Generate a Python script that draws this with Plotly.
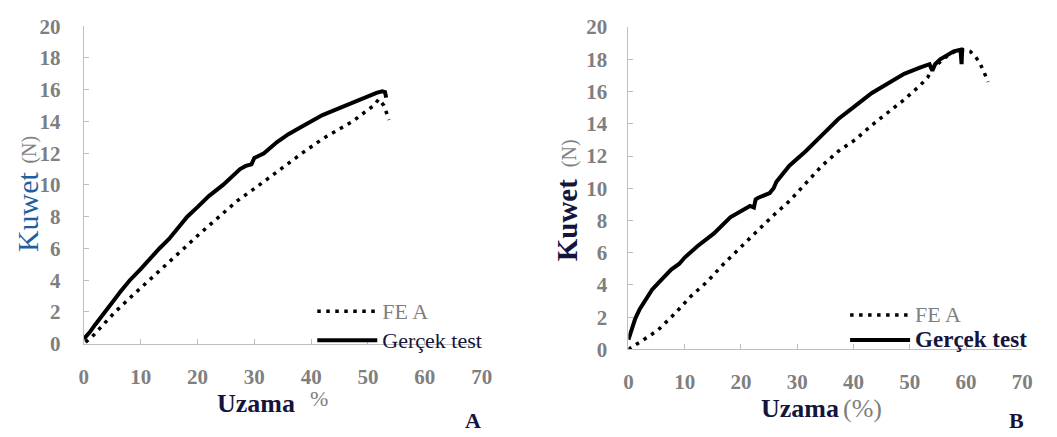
import plotly.graph_objects as go

# ---- Data ----
# Panel A
a_fea_x = [0.3, 1.5, 2.9, 4.2, 5.5, 8, 10, 12.4, 15, 17.6, 20, 23.7, 27, 30.9, 34, 38.4, 42, 45, 47.3, 49.5, 51.0, 51.9, 52.8, 53.7]
a_fea_y = [0.1, 0.45, 1.0, 1.5, 2.0, 2.85, 3.5, 4.25, 5.1, 6.0, 6.8, 8.0, 9.0, 10.0, 10.85, 12.0, 12.9, 13.5, 14.0, 14.6, 15.0, 15.4, 15.0, 14.1]
a_test_x = [0, 1, 2, 3, 3.75, 5, 6.5, 8.1, 10, 12, 13.3, 15, 16.5, 18.2, 20, 22, 24.5, 26, 27.5, 28.5, 29.5, 30, 31.7,
            34, 36, 38, 40.1, 42, 44, 46, 48, 50, 51.5, 52.5, 53.0, 53.2]
a_test_y = [0.3, 0.7, 1.2, 1.7, 2.0, 2.6, 3.3, 4.0, 4.7, 5.5, 6.0, 6.6, 7.3, 8.0, 8.6, 9.3, 10.0, 10.5, 11.0, 11.2, 11.3, 11.7, 12.0,
            12.7, 13.2, 13.6, 14.0, 14.4, 14.7, 15.0, 15.3, 15.6, 15.8, 15.9, 15.85, 15.5]
# Panel B
b_fea_x = [0, 1.2, 2.3, 3.8, 5.25, 8.2, 11.1, 14, 16.9, 19.8, 22.75, 25.7, 28.6, 31.5, 34.4, 37.3, 40.25, 43.2, 46.1, 49, 51.9,
           53.2, 54.25, 55.5, 56.6, 57.8, 58.9, 59.8, 60.7, 61.6, 62.4, 63.2, 63.9]
b_fea_y = [0, 0.25, 0.5, 0.85, 1.2, 2.2, 3.3, 4.2, 5.3, 6.3, 7.3, 8.3, 9.2, 10.3, 11.4, 12.3, 13.0, 13.9, 14.7, 15.5, 16.4,
           16.9, 17.5, 17.9, 18.2, 18.45, 18.6, 18.6, 18.5, 18.2, 17.8, 17.2, 16.6]
b_test_x = [0, 0.6, 1.2, 2, 3.2, 4.2, 5.25, 6.5, 7.6, 9, 10, 12.25, 15.2, 18.1, 21.6, 22.3, 22.6, 23, 25.1, 25.8, 26.3, 28.6, 31.5,
            34.4, 37.3, 40.25, 43.2, 46.1, 49, 51.9, 53.5, 54.0, 54.5, 55.4, 57.8, 59.0, 59.2, 59.3, 59.6]
b_test_y = [0.6, 1.3, 1.9, 2.5, 3.2, 3.7, 4.1, 4.6, 4.95, 5.3, 5.7, 6.4, 7.2, 8.2, 8.9, 8.8, 9.3, 9.4, 9.7, 10.0, 10.4, 11.4, 12.3,
            13.3, 14.3, 15.1, 15.9, 16.5, 17.1, 17.5, 17.7, 17.3, 17.7, 18.0, 18.5, 18.6, 17.7, 18.6, 18.6]

x_ticks = [0, 10, 20, 30, 40, 50, 60, 70]
y_ticks = [0, 2, 4, 6, 8, 10, 12, 14, 16, 18, 20]

W, H = 1057, 437
FONT = "Liberation Serif, Times New Roman, serif"
GRAY = "#7F7F7F"
AXC = "#BFBFBF"
NAVY = "#14143C"
BLUE = "#1F5FA0"


def px(x):
    return x / W


def py(y):
    return 1 - y / H


def sp(text, size, color=None):
    style = "font-family:Liberation Serif;font-size:%dpx" % size
    if color:
        style += ";color:%s" % color
    return '<span style="%s">%s</span>' % (style, text)


DOT = dict(color="black", width=3.5, dash="3.5px,5.5px")
SOLID = dict(color="black", width=4)

fig = go.Figure()
fig.add_trace(go.Scatter(x=a_fea_x, y=a_fea_y, mode="lines", name=sp("FE A", 22, GRAY),
                         line=DOT, xaxis="x", yaxis="y", legend="legend"))
fig.add_trace(go.Scatter(x=a_test_x, y=a_test_y, mode="lines", name=sp("Gerçek test", 22, NAVY),
                         line=SOLID, xaxis="x", yaxis="y", legend="legend"))
fig.add_trace(go.Scatter(x=b_fea_x, y=b_fea_y, mode="lines", name=sp("FE A", 22, GRAY),
                         line=DOT, xaxis="x2", yaxis="y2", legend="legend2"))
fig.add_trace(go.Scatter(x=b_test_x, y=b_test_y, mode="lines", name="<b>" + sp("Gerçek test", 23, NAVY) + "</b>",
                         line=SOLID, xaxis="x2", yaxis="y2", legend="legend2"))

tickfont = dict(family=FONT, size=21, color=GRAY, weight="bold")
axis_common = dict(showgrid=False, zeroline=False, showline=True, linecolor=AXC, linewidth=1,
                   ticks="inside", ticklen=5, tickcolor=AXC, tickfont=tickfont)

legend_common = dict(bgcolor="rgba(0,0,0,0)", xanchor="left", yanchor="top",
                     itemwidth=60, tracegroupgap=0, traceorder="normal")

fig.update_layout(
    width=W, height=H, margin=dict(l=0, r=0, t=0, b=0),
    paper_bgcolor="white", plot_bgcolor="white",
    font=dict(family=FONT),
    xaxis=dict(domain=[px(80), px(484)], range=[0, 70], tickvals=x_ticks, anchor="y",
               ticklabelstandoff=14, **axis_common),
    yaxis=dict(domain=[py(351), py(15)], range=[0, 20], tickvals=y_ticks, anchor="x",
               ticklabelstandoff=18, **axis_common),
    xaxis2=dict(domain=[px(633), px(1033)], range=[0, 70], tickvals=x_ticks, anchor="y2",
                ticklabelstandoff=13, **axis_common),
    yaxis2=dict(domain=[py(357), py(16)], range=[0, 20], tickvals=y_ticks, anchor="x2",
                ticklabelstandoff=16, **axis_common),
    legend=dict(x=px(312), y=py(296), font=dict(family=FONT, size=20, color=GRAY), **legend_common),
    legend2=dict(x=px(853), y=py(302), font=dict(family=FONT, size=17, color=GRAY), **legend_common),
    showlegend=True,
)

ann = []
# Panel A titles
ann.append(dict(x=px(255), y=py(414), text="<b>Uzama</b>", font=dict(family=FONT, size=26, color=NAVY)))
ann.append(dict(x=px(319), y=py(409), text="%", font=dict(family=FONT, size=22, color=GRAY)))
ann.append(dict(x=px(23), y=py(211), textangle=-90, text="Kuwet", font=dict(family=FONT, size=30, color=BLUE)))
ann.append(dict(x=px(25), y=py(146), textangle=-90, text="(N)", font=dict(family=FONT, size=20, color=GRAY)))
ann.append(dict(x=px(475), y=py(432), text="<b>A</b>", font=dict(family=FONT, size=22, color=NAVY)))
# Panel B titles
ann.append(dict(x=px(807), y=py(420), text="<b>Uzama</b>", font=dict(family=FONT, size=26, color=NAVY)))
ann.append(dict(x=px(871), y=py(420), text="(%)", font=dict(family=FONT, size=26, color=GRAY)))
ann.append(dict(x=px(571), y=py(220), textangle=-90, text="<b>Kuwet</b>", font=dict(family=FONT, size=29, color=NAVY)))
ann.append(dict(x=px(573), y=py(149), textangle=-90, text="(N)", font=dict(family=FONT, size=20, color=GRAY)))
ann.append(dict(x=px(1027), y=py(432), text="<b>B</b>", font=dict(family=FONT, size=22, color=NAVY)))

for a in ann:
    a.update(xref="paper", yref="paper", xanchor="center", yanchor="middle", showarrow=False)
fig.update_layout(annotations=ann)

fig.write_html("out.html")
